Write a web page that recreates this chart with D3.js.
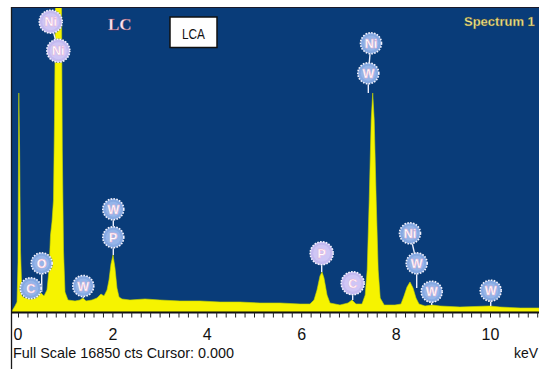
<!DOCTYPE html>
<html><head><meta charset="utf-8">
<script src="https://cdn.jsdelivr.net/npm/d3@7"></script>
<style>html,body{margin:0;padding:0;background:#fff;overflow:hidden}svg{display:block}</style>
</head><body>
<svg id="chart" width="539" height="369"></svg>
<script>
// EDS spectrum: energy (keV) and counts
const energyKeV = [-0.127,-0.064,-0.021,0.0,0.017,0.034,0.053,0.085,0.148,0.212,0.275,0.360,0.466,0.551,0.614,0.657,0.689,0.720,0.752,0.773,0.794,0.858,0.922,0.939,0.964,0.996,1.059,1.208,1.314,1.377,1.441,1.568,1.674,1.758,1.822,1.886,1.928,1.970,2.013,2.055,2.097,2.140,2.203,2.373,2.691,3.008,3.432,3.856,4.280,4.703,5.127,5.551,5.975,6.186,6.271,6.335,6.398,6.441,6.483,6.547,6.610,6.822,6.992,7.076,7.161,7.288,7.356,7.398,7.441,7.483,7.515,7.547,7.589,7.631,7.674,7.758,7.987,8.114,8.178,8.242,8.305,8.369,8.432,8.496,8.623,8.771,8.941,9.364,10.0,10.21,10.64,11.17];
const counts = [55,333,554,2770,12140,8980,3440,887,776,998,721,776,1109,887,1219,2328,4268,4989,6208,10643,17017,26000,17017,8980,3437,1109,665,610,665,776,610,665,776,998,887,1219,1774,2661,3160,2439,1330,831,721,665,721,665,610,610,554,554,499,499,443,443,665,1219,1995,2217,1885,942,499,388,499,665,443,443,942,2328,6208,10643,12139,10643,6208,2328,776,388,388,443,887,1386,1663,1330,776,443,333,388,333,277,333,277,222,222];

// Element line markers: symbol, energy, marker height (counts), flagged, marker stacked below (-1 = spectrum)
const lineNames   = ["Ni","Ni","O","C","W","W","P","P","C","Ni","W","Ni","W","W","W"];
const lineKeV     = [0.693,0.854,0.502,0.269,1.383,2.019,2.019,6.434,7.091,7.479,7.422,8.305,8.447,8.765,10.015];
const lineHeight  = [16091,14484,2699,1314,1441,5693,4141,3254,1591,14894,13231,4362,2699,1125,1181];
const lineFlagged = [1,1,0,0,0,0,0,1,1,0,0,0,0,0,0];
const lineBelow   = [1,-1,-1,-1,-1,6,-1,-1,-1,10,-1,12,-1,-1,-1];

// Axis
const tickValues = [0,2,4,6,8,10];
const tickLabels = ["0","2","4","6","8","10"];
const fullScale = 16850;

const W = 539, H = 369;
const svg = d3.select("#chart");
const x = d3.scaleLinear().domain([0, 10]).range([18, 490]);
const y = d3.scaleLinear().domain([0, fullScale]).range([312, 8]);

const spectrum = energyKeV.map((e, i) => ({e, c: counts[i]}));

// panel
svg.append("rect").attr("x", 12).attr("y", 7.5).attr("width", W - 12).attr("height", 305)
  .attr("fill", "#093c79");

svg.append("clipPath").attr("id", "plotclip")
  .append("rect").attr("x", 12).attr("y", 8).attr("width", W - 12).attr("height", 304);

const plot = svg.append("g").attr("clip-path", "url(#plotclip)");

const area = d3.area()
  .x(d => x(d.e)).y0(y(0)).y1(d => y(d.c))
  .curve(d3.curveLinear);

plot.append("path").datum(spectrum)
  .attr("d", area)
  .attr("fill", "#f6f300")
  .attr("stroke", "#c9d800").attr("stroke-width", 0.6);

// highest spectrum value near an energy (stem end for a marker)
const localMax = e => d3.max(spectrum.filter(d => Math.abs(d.e - e) <= 0.1), d => d.c)
  ?? spectrum[d3.bisector(d => d.e).left(spectrum, e)].c;

// markers
const markers = lineNames.map((n, i) => ({
  name: n, e: lineKeV[i], h: lineHeight[i], flag: lineFlagged[i], below: lineBelow[i]
}));
const rOf = m => m.flag ? 11.5 : 10.5;

const stems = plot.append("g");
markers.forEach(m => {
  const cx = x(m.e), cy = y(m.h);
  let x2, y2;
  if (m.below >= 0) {
    const b = markers[m.below];
    x2 = x(b.e); y2 = y(b.h);
  } else {
    x2 = cx; y2 = y(localMax(m.e));
  }
  if (y2 > cy) {
    stems.append("line")
      .attr("x1", cx).attr("y1", cy).attr("x2", x2).attr("y2", y2)
      .attr("stroke", "#eef0ff").attr("stroke-width", 1.4);
  }
});

const mk = plot.append("g").selectAll("g").data(markers).join("g")
  .attr("transform", m => `translate(${x(m.e)},${y(m.h)})`);
mk.append("circle").attr("r", d => rOf(d) + 0.8).attr("fill", "#1d3f74").attr("opacity", 0.5);
mk.append("circle").attr("r", rOf)
  .attr("fill", d => d.flag ? "#c4baf0" : "#86a9e2");
mk.append("circle").attr("r", d => rOf(d) - 3).attr("fill", d => d.flag ? "#d4ccf6" : "#9dbbec").attr("opacity", 0.7);
mk.append("circle").attr("r", rOf)
  .attr("fill", "none").attr("stroke", "#f4f4ff").attr("stroke-width", 1.6)
  .attr("stroke-dasharray", "1.6 1.3");
mk.append("text").text(d => d.name)
  .attr("text-anchor", "middle").attr("dy", "0.37em")
  .attr("font-family", "Liberation Sans, Arial, sans-serif")
  .attr("font-size", 12.5).attr("font-weight", "bold")
  .attr("fill", "#ffffff")
  .attr("stroke", "#f0a6c8").attr("stroke-width", 0.35);

// frame lines
svg.append("line").attr("x1", 11).attr("x2", W).attr("y1", 7.5).attr("y2", 7.5)
  .attr("stroke", "#1a1a2a").attr("stroke-width", 1.2);
svg.append("line").attr("x1", 11.5).attr("x2", 11.5).attr("y1", 7).attr("y2", H)
  .attr("stroke", "#1a1a1a").attr("stroke-width", 1.3);

// x axis
const axisG = svg.append("g").attr("transform", "translate(0,312.5)");
axisG.append("line").attr("x1", 11).attr("x2", W).attr("y1", 0).attr("y2", 0)
  .attr("stroke", "#111").attr("stroke-width", 2);
axisG.call(g => {
  const minor = d3.axisBottom(x).tickValues(d3.range(0, 11.01, 0.2)).tickSize(5).tickFormat("");
  const mg = g.append("g").call(minor);
  mg.select(".domain").remove();
  mg.selectAll("line").attr("stroke", "#222").attr("stroke-width", 1);
});
const lab = axisG.append("g").call(
  d3.axisBottom(x).tickValues(tickValues).tickSize(0)
    .tickFormat((d, i) => tickLabels[i]));
lab.select(".domain").remove();
lab.selectAll("text")
  .attr("y", 27).attr("dy", 0)
  .attr("font-family", "Liberation Sans, Arial, sans-serif")
  .attr("font-size", 16).attr("fill", "#111")
  .attr("text-anchor", (d, i) => i === 0 ? "start" : "middle")
  .attr("x", (d, i) => i === 0 ? -5 : 0);

// status line
svg.append("text").attr("x", 13).attr("y", 358)
  .attr("font-family", "Liberation Sans, Arial, sans-serif").attr("font-size", 15)
  .attr("textLength", 221).attr("lengthAdjust", "spacingAndGlyphs")
  .attr("fill", "#111").text("Full Scale " + fullScale + " cts Cursor: 0.000");
svg.append("text").attr("x", 514).attr("y", 358)
  .attr("font-family", "Liberation Sans, Arial, sans-serif").attr("font-size", 14)
  .attr("fill", "#111").text("keV");

// titles inside panel
svg.append("text").attr("x", 108).attr("y", 29.5)
  .attr("font-family", "Liberation Serif, Times New Roman, serif").attr("font-size", 17)
  .attr("font-weight", "bold")
  .attr("fill", "#fbe6f0").attr("stroke", "#7a2b50").attr("stroke-width", 0.3)
  .text("LC");

svg.append("rect").attr("x", 170).attr("y", 17).attr("width", 47).attr("height", 30.5)
  .attr("fill", "#fff").attr("stroke", "#111").attr("stroke-width", 1.5);
svg.append("text").attr("x", 193.5).attr("y", 38.5).attr("text-anchor", "middle")
  .attr("font-family", "Liberation Sans, Arial, sans-serif").attr("font-size", 15)
  .attr("textLength", 23).attr("lengthAdjust", "spacingAndGlyphs")
  .attr("fill", "#111").text("LCA");

svg.append("text").attr("x", 464).attr("y", 26)
  .attr("font-family", "Liberation Sans, Arial, sans-serif").attr("font-size", 13)
  .attr("font-weight", "bold")
  .attr("fill", "#efe68c").attr("stroke", "#5a4a20").attr("stroke-width", 0.3)
  .text("Spectrum 1");
</script></body></html>
